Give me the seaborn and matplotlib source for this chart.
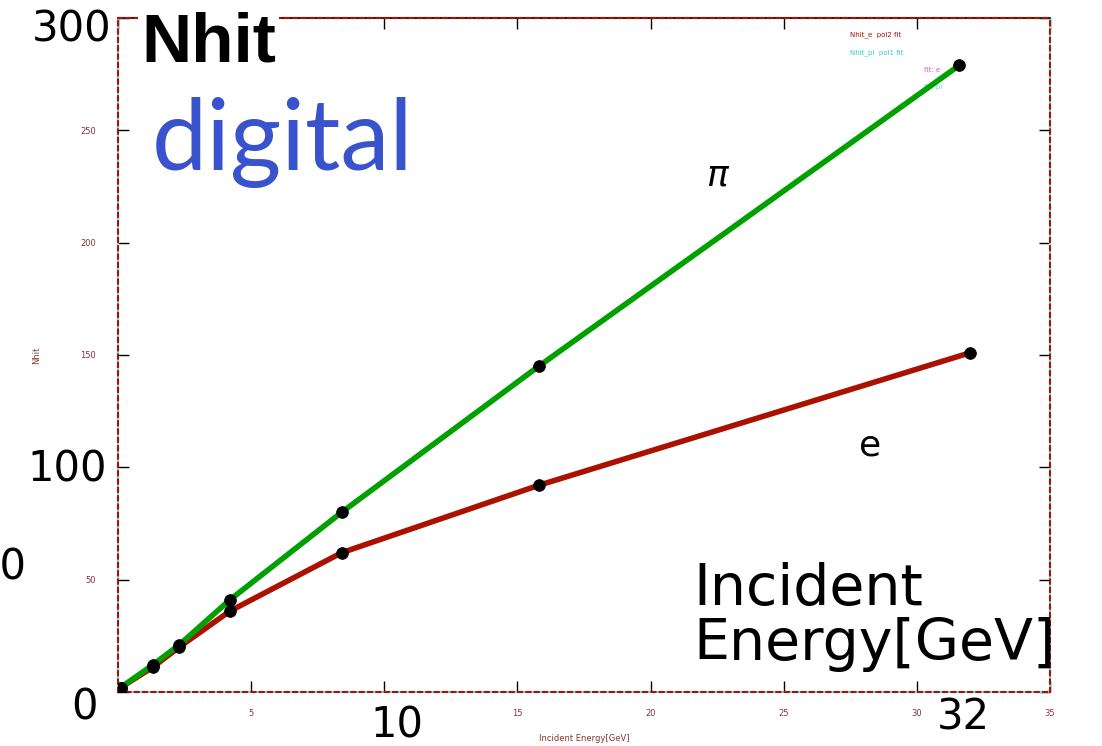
import matplotlib
matplotlib.use("Agg")
import matplotlib.pyplot as plt
import seaborn as sns
import pandas as pd

# ---- data ----
energy_pi = [0.1, 1.3, 2.3, 4.2, 8.4, 15.8, 31.6]
nhit_pi = [2, 12, 21, 41, 80, 145, 279]
energy_e = [0.1, 1.3, 2.3, 4.2, 8.4, 15.8, 32.0]
nhit_e = [2, 11, 20, 36, 62, 92, 151]

x_ticks = [0, 5, 10, 15, 20, 25, 30, 35]
y_ticks = [0, 50, 100, 150, 200, 250, 300]
# tiny tick labels; those hidden under the big slide numbers are left blank
x_tick_labels = ["", "5", "", "15", "20", "25", "30", "35"]
y_tick_labels = ["", "50", "", "150", "200", "250", ""]

legend_lines = ["Nhit_e  pol2 fit", "Nhit_pi  pol1 fit", "fit: e", "fit: pi"]

df = pd.concat([
    pd.DataFrame({"energy": energy_e, "nhit": nhit_e, "particle": "e"}),
    pd.DataFrame({"energy": energy_pi, "nhit": nhit_pi, "particle": "pi"}),
])

sns.set_theme(style="white")
plt.rcParams["font.family"] = ["DejaVu Sans"]

fig = plt.figure(figsize=(11.02, 7.46), dpi=100)
ax = fig.add_axes([118 / 1102, 1 - 692 / 746, (1050 - 118) / 1102, (692 - 18) / 746])

RED = "#aa1100"
GREEN = "#00a000"
sns.lineplot(data=df[df.particle == "e"], x="energy", y="nhit", color=RED, lw=4, ax=ax, zorder=3)
sns.lineplot(data=df[df.particle == "pi"], x="energy", y="nhit", color=GREEN, lw=4, ax=ax, zorder=4)
sns.scatterplot(data=df, x="energy", y="nhit", color="black", s=70, edgecolor="black", ax=ax, zorder=5, legend=False)

ax.set_xlim(0, 35)
ax.set_ylim(0, 300)
ax.set_xticks(x_ticks)
ax.set_yticks(y_ticks)
ax.set_xticklabels(x_tick_labels, fontsize=6, color="#883333")
ax.set_yticklabels(y_tick_labels, fontsize=6, color="#883333")
ax.tick_params(axis="both", direction="in", length=8, width=1, color="black",
               top=True, right=True, bottom=True, left=True)
ax.tick_params(axis="x", pad=12)
ax.tick_params(axis="y", pad=16)
ax.set_xlabel("Incident Energy[GeV]", fontsize=6, color="#883333")
ax.set_ylabel("Nhit", fontsize=6, color="#883333")
ax.xaxis.set_label_coords(0.50, -0.062)
ax.yaxis.set_label_coords(-0.083, 0.5)

for side, sp in ax.spines.items():
    sp.set_visible(True)
    sp.set_color(RED)
    sp.set_linestyle((0, (2, 2)))
    sp.set_linewidth(1.5)
ax.plot([0, 0], [0, 1], color="#55eeee", lw=1.5, transform=ax.transAxes, clip_on=False, zorder=1)
ax.plot([0, 1], [0, 0], color="#55eeee", lw=1.5, transform=ax.transAxes, clip_on=False, zorder=1)
ax.plot([1, 1], [0, 1], color="#55eeee", lw=1.5, transform=ax.transAxes, clip_on=False, zorder=1)
ax.plot([0, 1], [1, 1], color="#222222", lw=1.5, transform=ax.transAxes, clip_on=False, zorder=1)

# tiny legend
leg_colors = [RED, "#33cccc", "#dd55dd", "#55dddd"]
for i, (txt, c) in enumerate(zip(legend_lines, leg_colors)):
    ax.text(0.785 + (0.08 if i >= 2 else 0), 0.975 - i * 0.026, txt, transform=ax.transAxes,
            fontsize=5, color=c, ha="left", va="center")

# slide annotations (figure pixel coords)
def ftext(x, y, s, **kw):
    t = fig.text(x / 1102, 1 - y / 746, s, **kw)
    t.set_zorder(10)
    return t

wb = dict(facecolor="white", edgecolor="none", pad=1)
plain = dict(family=["DejaVu Sans"], color="black")
ftext(111, 30, "300", fontsize=30, ha="right", va="center", bbox=wb, **plain)
ftext(107, 470, "100", fontsize=30, ha="right", va="center", bbox=wb, **plain)
ftext(27, 568, "50", fontsize=30, ha="right", va="center", **plain)
ftext(98, 708, "0", fontsize=30, ha="right", va="center", bbox=wb, **plain)
ftext(397, 726, "10", fontsize=30, ha="center", va="center", bbox=wb, **plain)
ftext(963, 718, "32", fontsize=30, ha="center", va="center", bbox=wb, **plain)

ftext(141, 44, "Nhit", fontsize=50, fontweight="bold", family=["Liberation Sans", "DejaVu Sans"],
      color="black", ha="left", va="center",
      bbox=dict(facecolor="white", edgecolor="none", pad=2))
ftext(152, 142, "digital", fontsize=71, family=["Lato", "DejaVu Sans"], color="#3953cc",
      ha="left", va="center")

ftext(718, 175, r"$\pi$", fontsize=26, ha="center", va="center", color="black")
ftext(870, 446, "e", fontsize=26, ha="center", va="center", **plain)

ftext(693, 617, "Incident\nEnergy[GeV]", fontsize=41, ha="left", va="center",
      linespacing=1.0, **plain)

fig.savefig("out.png", dpi=100)
